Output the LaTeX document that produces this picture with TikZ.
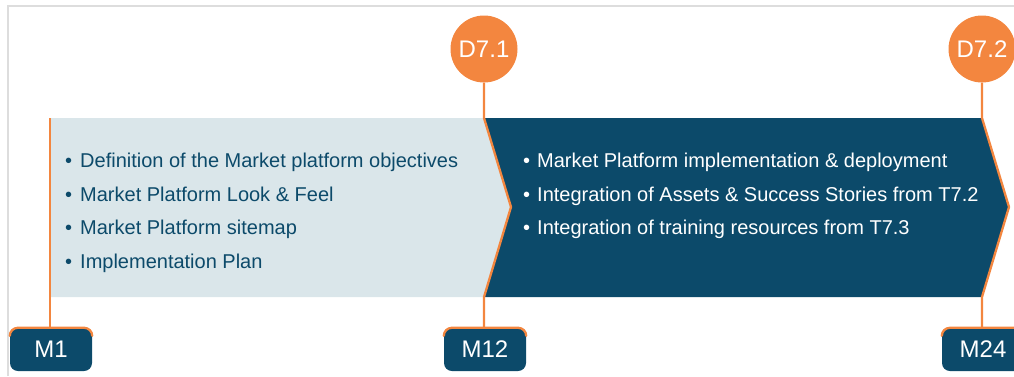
\documentclass[tikz,border=0pt]{standalone}
\usepackage{fontspec}
\setmainfont{Liberation Sans}
\definecolor{darkblue}{HTML}{0C4A6A}
\definecolor{lightbox}{HTML}{DAE6EA}
\definecolor{orangec}{HTML}{F3863F}
\definecolor{framegray}{HTML}{DDDDDD}
\tikzset{
  x=1pt,y=-1pt,
  item/.style={anchor=base west,inner sep=0pt,font=\fontsize{20}{22}\selectfont},
  leftitem/.style={item,text=darkblue},
  rightitem/.style={item,text=white},
  deliv/.style={circle,fill=orangec,minimum size=67pt,inner sep=0pt,text=white,font=\fontsize{24}{26}\selectfont},
  milebox/.style={rectangle,rounded corners=8pt,fill=darkblue,minimum width=82pt,minimum height=43pt,inner sep=0pt,text=white,font=\fontsize{24}{26}\selectfont},
  oline/.style={draw=orangec,line width=2.3pt},
}
\begin{document}
\begin{tikzpicture}
\useasboundingbox (0,0) rectangle (1014,376);
% frame
\draw[framegray,line width=2pt] (8,376) -- (8,6) -- (1014,6);
% shapes
\fill[lightbox] (50,118) -- (484,118) -- (511,207) -- (484,297) -- (50,297) -- cycle;
\fill[darkblue] (484,118) -- (982,118) -- (1009,207) -- (982,297) -- (484,297) -- (511,207) -- cycle;
% milestones
\node[milebox] (m1) at (51,349.5) {M1};
\node[milebox] (m12) at (485,349.5) {M12};
\node[milebox] (m24) at (983,349.5) {M24};
\foreach \n in {m1,m12,m24}{
  \draw[orangec,line width=2.3pt,line cap=round]
    ([yshift=-8pt]\n.north west) arc[start angle=180,end angle=90,radius=8pt]
    -- ([xshift=-8pt]\n.north east) arc[start angle=90,end angle=0,radius=8pt];
}
% deliverables
\node[deliv] (d71) at (484,49) {D7.1};
\node[deliv] (d72) at (982,49) {D7.2};
% connectors
\coordinate (l1) at (50,118);
\draw[oline] (l1) -- (m1.north -| l1);
\coordinate (a1) at (484,118);
\coordinate (b1) at (511,207);
\coordinate (c1) at (484,297);
\draw[oline,line join=round] (d71.south) -- (a1) -- (b1) -- (c1) -- (m12.north -| c1);
\coordinate (a2) at (982,118);
\coordinate (b2) at (1009,207);
\coordinate (c2) at (982,297);
\draw[oline,line join=round] (d72.south) -- (a2) -- (b2) -- (c2) -- (m24.north -| c2);
% left list
\node[leftitem] (t1) at (65,167) {•\hspace{8pt}Definition of the Market platform objectives};
\node[leftitem] (t2) at (65,201) {•\hspace{8pt}Market Platform Look \& Feel};
\node[leftitem] (t3) at (65,234) {•\hspace{8pt}Market Platform sitemap};
\node[leftitem] (t4) at (65,268) {•\hspace{8pt}Implementation Plan};
% right list
\node[rightitem] (r1) at (523,167) {•\hspace{7pt}Market Platform implementation \& deployment};
\node[rightitem] (r2) at (523,201) {•\hspace{7pt}Integration of Assets \& Success Stories from T7.2};
\node[rightitem] (r3) at (523,234) {•\hspace{7pt}Integration of training resources from T7.3};
\end{tikzpicture}
\end{document}
